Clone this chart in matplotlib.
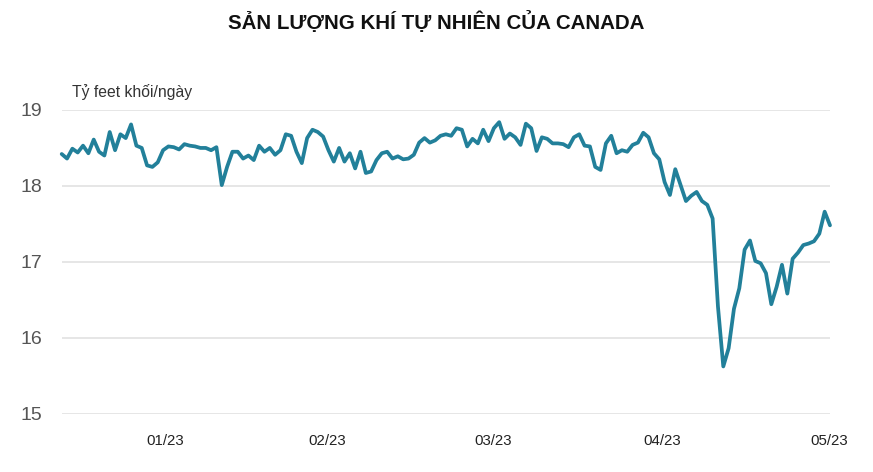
import matplotlib
matplotlib.use("Agg")
import matplotlib.pyplot as plt
import numpy as np

plt.rcParams['font.family'] = ['Liberation Sans', 'DejaVu Sans']

title = "SẢN LƯỢNG KHÍ TỰ NHIÊN CỦA CANADA"
unit_label = "Tỷ feet khối/ngày"

# daily series (billion cubic feet per day)
values = [
    18.42, 18.36, 18.49, 18.44, 18.53, 18.43, 18.61, 18.45, 18.40, 18.71,
    18.47, 18.68, 18.63, 18.81, 18.53, 18.50, 18.27, 18.25, 18.31, 18.47,
    18.52, 18.51, 18.48, 18.55, 18.53, 18.52, 18.50, 18.50, 18.47, 18.51,
    18.01, 18.25, 18.45, 18.45, 18.36, 18.40, 18.34, 18.53, 18.45, 18.50,
    18.41, 18.47, 18.68, 18.66, 18.45, 18.30, 18.63, 18.74, 18.71, 18.65,
    18.47, 18.32, 18.50, 18.32, 18.43, 18.23, 18.45, 18.17, 18.19, 18.34,
    18.43, 18.45, 18.36, 18.39, 18.35, 18.36, 18.41, 18.57, 18.63, 18.57,
    18.60, 18.66, 18.68, 18.66, 18.76, 18.74, 18.52, 18.62, 18.56, 18.74,
    18.59, 18.76, 18.84, 18.62, 18.69, 18.64, 18.54, 18.82, 18.76, 18.46,
    18.64, 18.62, 18.56, 18.56, 18.55, 18.51, 18.64, 18.68, 18.53, 18.52,
    18.25, 18.21, 18.56, 18.66, 18.43, 18.47, 18.45, 18.54, 18.57, 18.70,
    18.64, 18.43, 18.35, 18.05, 17.88, 18.22, 18.01, 17.80, 17.87, 17.92,
    17.80, 17.75, 17.57, 16.41, 15.62, 15.86, 16.38, 16.65, 17.16, 17.28,
    17.01, 16.98, 16.85, 16.44, 16.67, 16.96, 16.58, 17.04, 17.12, 17.22,
    17.24, 17.27, 17.37, 17.66, 17.48,
]

tick_labels = ["01/23", "02/23", "03/23", "04/23", "05/23"]
tick_pos = [19.4, 49.7, 80.9, 112.5, 143.8]
y_ticks = [15, 16, 17, 18, 19]

W, H = 873, 472
fig = plt.figure(figsize=(W / 100, H / 100), dpi=100)
ax = fig.add_axes([61.7 / W, 1 - 413.5 / H, (830 - 61.7) / W, (413.5 - 110) / H])

x = np.arange(len(values))
ax.plot(x, values, color="#22809a", linewidth=2.7, solid_joinstyle="round",
        solid_capstyle="round", clip_on=False, zorder=3)

ax.set_xlim(0, len(values) - 1)
ax.set_ylim(15, 19)
ax.set_yticks(y_ticks)
ax.set_yticklabels([str(v) for v in y_ticks], fontsize=14, color="#555555")
ax.set_xticks(tick_pos)
ax.set_xticklabels(tick_labels, fontsize=10.8, color="#222222")
ax.tick_params(axis="both", length=0)
ax.tick_params(axis="y", pad=14)
ax.tick_params(axis="x", pad=15)
for s in ax.spines.values():
    s.set_visible(False)
ax.grid(axis="y", color="#e4e4e4", linewidth=1.3)
ax.set_axisbelow(True)

fig.text(436 / W, 1 - 22 / H, title, ha="center", va="center",
         fontsize=14.8, fontweight="bold", color="#111111")
fig.text(72 / W, 1 - 92 / H, unit_label, ha="left", va="center",
         fontsize=11.3, color="#333333")

fig.savefig("out.png", dpi=100, facecolor="white")
